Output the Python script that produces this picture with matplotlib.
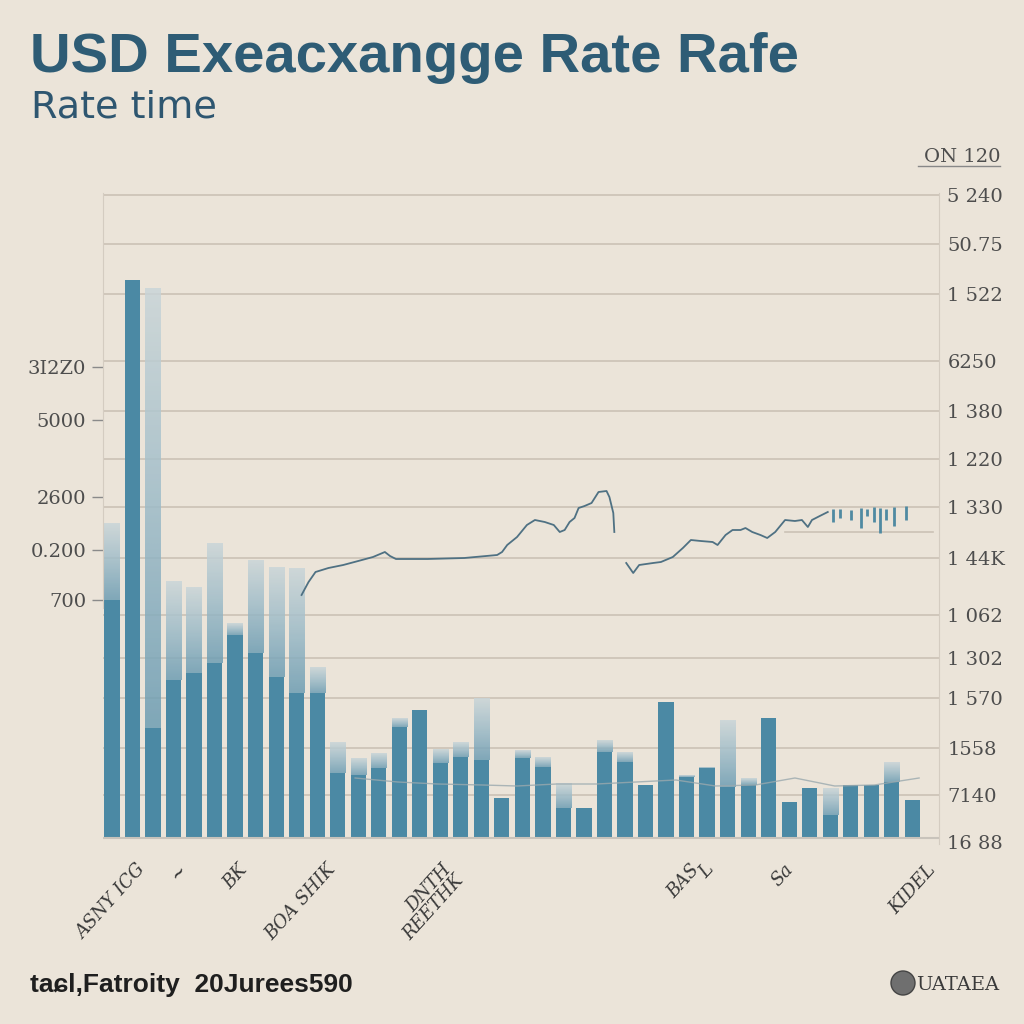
import matplotlib
matplotlib.use("Agg")
import matplotlib.pyplot as plt
import numpy as np
from matplotlib.colors import LinearSegmentedColormap
from matplotlib.patches import Rectangle, Circle

# ---------------- data ----------------
bar_solid = [238, 558, 110, 158, 165, 175, 203, 185, 161, 145, 145, 65, 63, 70, 111, 128, 75, 81, 78, 40,
             80, 71, 30, 30, 86, 76, 53, 136, 61, 70, 51, 53, 120, 36, 50, 23, 53, 53, 56, 38]
bar_faded = [315, 558, 550, 257, 251, 295, 215, 278, 271, 270, 171, 96, 80, 85, 120, 128, 89, 96, 140, 40,
             88, 81, 55, 30, 98, 86, 53, 136, 63, 71, 118, 60, 120, 36, 50, 50, 53, 53, 76, 38]

line1_x = [9.24, 9.58, 9.92, 10.55, 11.27, 12.0, 12.72, 13.30, 13.55, 13.84, 15.38, 17.17, 18.77, 19.01,
           19.26, 19.74, 20.22, 20.61, 21.09, 21.53, 21.82, 22.06, 22.30, 22.54, 22.74, 23.03, 23.37,
           23.71, 24.10, 24.24, 24.43, 24.48]
line1_y = [243, 256, 266, 270, 273, 277, 281, 286, 282, 279, 279, 280, 283, 286, 293, 301, 313, 318,
           316, 313, 306, 308, 316, 320, 330, 332, 335, 346, 347, 341, 325, 306]
line2_x = [25.06, 25.40, 25.69, 26.37, 26.75, 27.33, 27.82, 28.21, 28.69, 29.27, 29.51, 29.90, 30.24,
           30.63, 30.87, 31.20, 31.60, 31.93, 32.32, 32.80, 33.28, 33.62, 33.91, 34.11, 34.49, 34.88]
line2_y = [275, 265, 273, 275, 276, 281, 290, 298, 297, 296, 293, 303, 308, 308, 310, 306, 303, 300,
           306, 318, 317, 318, 311, 318, 322, 326]
spike_x = [35.12, 35.50, 35.99, 36.48, 36.77, 37.15, 37.44, 37.73, 38.12, 38.70]
spike_lo = [316, 320, 318, 310, 322, 316, 305, 318, 312, 318]
spike_hi = [329, 329, 328, 330, 329, 331, 330, 329, 331, 332]

low_x = [11.85, 13.93, 15.87, 18.05, 19.74, 21.67, 23.61, 25.54, 27.48, 29.41, 31.35, 33.28, 35.22, 37.15, 39.33]
low_y = [60, 56, 54, 53, 52, 54, 54, 56, 58, 52, 53, 60, 52, 53, 60]

grid_vals = [643, 594, 544, 477, 427, 379, 331, 280, 223, 180, 140, 90, 43]
right_vals = [643, 594, 544, 477, 427, 379, 331, 280, 223, 180, 140, 90, 43, -4]
right_labels = ["5 240", "50.75", "1 522", "6250", "1 380", "1 220", "1 330", "1 44K", "1 062",
                "1 302", "1 570", "1558", "7140", "16 88"]
left_vals = [471, 418, 341, 288, 238]
left_labels = ["3I2Z0", "5000", "2600", "0.200", "700"]
xlab_pos = [1.8, 3.8, 6.8, 11.1, 17.3, 28.8, 29.5, 33.4, 40.3]
xlab_text = ["ASNY ICG", "~", "BK", "BOA SHIK", "DNTH\nREETHK", "BAS", "L", "Sa", "KIDEL"]

title = "USD Exeacxangge Rate Rafe"
subtitle = "Rate time"
source = "taɕl,Fatroity  20Jurees590"
brand = "UATAEA"
corner = "ON 120"

# ---------------- style ----------------
BG = "#ebe4d9"
SOLID = "#4b89a4"
PALE = "#c9d5d8"
GRID = "#cbc2b6"
TXT = "#4d4d4d"

fig = plt.figure(figsize=(10.24, 10.24), dpi=100, facecolor=BG)
ax = fig.add_axes([103 / 1024, 1 - 844 / 1024, 836 / 1024, 651 / 1024])
ax.set_facecolor(BG)
XMIN, XMAX = -0.435, 40.01
YMIN, YMAX = -6, 645

cmap = LinearSegmentedColormap.from_list("fade", [PALE, "#9dbbc8", "#6d9db3"])
grad = np.linspace(0, 1, 64).reshape(-1, 1)
w = 0.74
for i, (s, f) in enumerate(zip(bar_solid, bar_faded)):
    x0 = i - w / 2
    ax.add_patch(Rectangle((x0, 0), w, s, facecolor=SOLID, edgecolor="none", zorder=2))
    if f > s:
        ax.imshow(grad, extent=[x0, x0 + w, s, f], cmap=cmap, vmin=0, vmax=1,
                  aspect="auto", origin="upper", zorder=1.9, alpha=0.85,
                  interpolation="bilinear")

for gv in grid_vals:
    ax.axhline(gv, color=GRID, lw=1.2, zorder=0.5)
ax.plot([32.8, 40.0], [306, 306], color=GRID, lw=1.2, zorder=0.5)
ax.axhline(0, color="#c8c3bb", lw=1.5, zorder=3)

ax.plot(low_x, low_y, color="#9aa9ae", lw=1.0, alpha=0.8, zorder=3)
ax.plot(line1_x, line1_y, color="#4f7183", lw=1.3, zorder=4)
ax.plot(line2_x, line2_y, color="#4f7183", lw=1.3, zorder=4)
ax.vlines(spike_x, spike_lo, spike_hi, colors="#4f8aa2", lw=2.0, zorder=4)

ax.set_xlim(XMIN, XMAX)
ax.set_ylim(YMIN, YMAX)

for sp in ["top", "bottom"]:
    ax.spines[sp].set_visible(False)
ax.spines["left"].set_color("#d4ccc1")
ax.spines["right"].set_color("#d4ccc1")
ax.spines["left"].set_bounds(230, 645)

ax.set_yticks(left_vals)
ax.set_yticklabels(left_labels, fontsize=14, color=TXT, family="DejaVu Serif")
ax.tick_params(axis="y", length=8, width=1, color="#8a8a8a", pad=4)

ax.set_xticks(xlab_pos)
ax.set_xticklabels(xlab_text, rotation=48, ha="right", va="top", fontsize=13,
                   color="#3a3a3a", family="DejaVu Serif", style="italic", linespacing=0.9)
ax.tick_params(axis="x", length=0, pad=12)

ax2 = ax.twinx()
ax2.set_ylim(YMIN, YMAX)
ax2.set_yticks(right_vals)
ax2.set_yticklabels(right_labels, fontsize=14, color=TXT, family="DejaVu Serif")
ax2.tick_params(axis="y", length=0, pad=6)
for sp in ax2.spines.values():
    sp.set_visible(False)

# ---------------- texts ----------------
fig.text(30 / 1024, 1 - 72 / 1024, title, fontsize=40.5, fontweight="bold", color="#2e5c75",
         family="Liberation Sans", ha="left", va="baseline")
fig.text(31 / 1024, 1 - 118 / 1024, subtitle, fontsize=27.5, color="#2e5670",
         family="DejaVu Sans", ha="left", va="baseline")
fig.text(1000 / 1024, 1 - 157 / 1024, corner, fontsize=14, color=TXT, family="DejaVu Serif",
         ha="right", va="center")
fig.add_artist(plt.Line2D([918 / 1024, 1000 / 1024], [1 - 166 / 1024, 1 - 166 / 1024],
                          color="#888888", lw=1))
fig.text(30 / 1024, 1 - 985 / 1024, source, fontsize=19, fontweight="bold", color="#1f1f1f",
         family="Liberation Sans", ha="left", va="center")
fig.add_artist(Circle((903 / 1024, 1 - 983 / 1024), 12 / 1024, transform=fig.transFigure,
                      facecolor="#6f6f6f", edgecolor="#444444", lw=1))
fig.text(916 / 1024, 1 - 985 / 1024, brand, fontsize=14, color="#3a3a3a",
         family="DejaVu Serif", ha="left", va="center")

fig.savefig("out.png", dpi=100, facecolor=BG)
